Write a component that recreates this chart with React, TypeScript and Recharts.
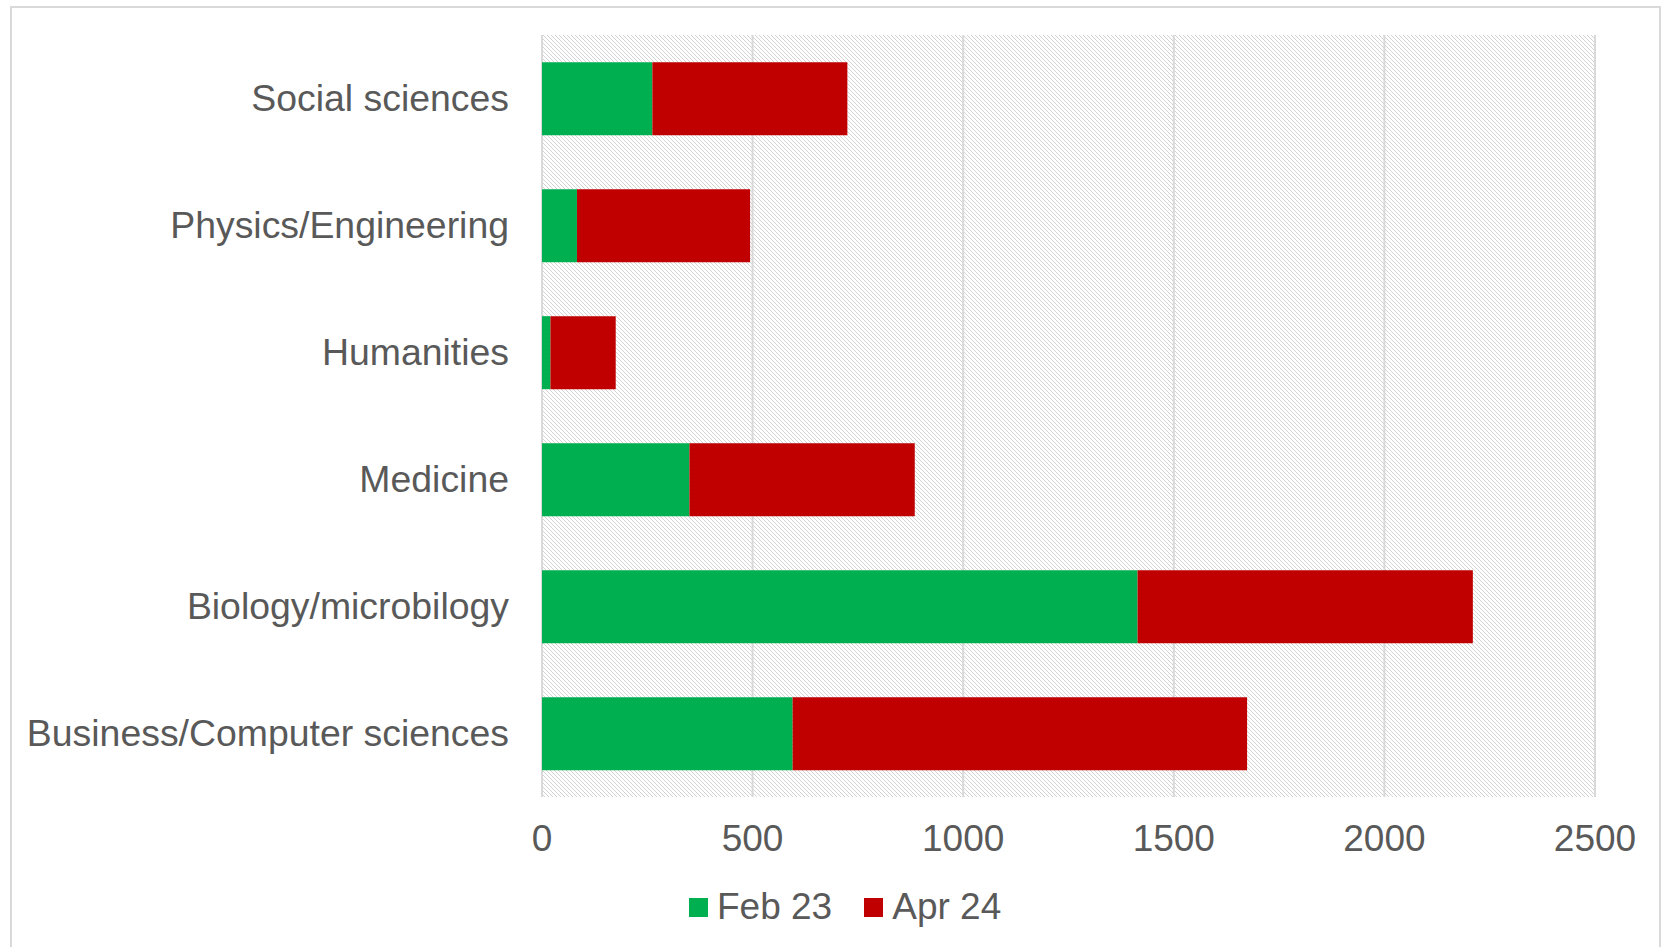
import React from 'react';
import {
  BarChart,
  Bar,
  XAxis,
  YAxis,
  CartesianGrid,
  Legend,
} from 'recharts';

// Fields of study, listed top to bottom as drawn
const categories = [
  'Social sciences',
  'Physics/Engineering',
  'Humanities',
  'Medicine',
  'Biology/microbilogy',
  'Business/Computer sciences',
];

// Counts per snapshot (stacked)
const feb23 = [262, 83, 20, 350, 1414, 595];
const apr24 = [463, 411, 155, 535, 796, 1079];

const xTicks = [0, 500, 1000, 1500, 2000, 2500];

const GREEN = '#00B050';
const RED = '#C00000';
const TEXT = '#595959';
const GRID = '#d9d9d9';
const FONT = '"Liberation Sans", Arial, sans-serif';
const FONT_SIZE = 37;

const chartData = categories.map((name, i) => ({
  name,
  feb23: feb23[i],
  apr24: apr24[i],
}));

const legendItems = [
  { label: 'Feb 23', color: GREEN },
  { label: 'Apr 24', color: RED },
];

// Legend drawn as two coloured squares with labels
const CustomLegend = () => (
  <div style={{ display: 'flex', alignItems: 'center', height: 40, paddingLeft: 689 }}>
    {legendItems.map((item, idx) => (
      <div key={idx} style={{ display: 'flex', alignItems: 'center', marginRight: 32 }}>
        <div style={{ width: 19, height: 19, backgroundColor: item.color, marginRight: 9 }} />
        <span style={{ fontSize: FONT_SIZE, color: TEXT, fontFamily: FONT, lineHeight: '40px' }}>{item.label}</span>
      </div>
    ))}
  </div>
);

export default function App() {
  return (
    <div style={{ position: 'absolute', left: 0, top: 0, width: 1665, height: 947, background: '#fff', overflow: 'hidden' }}>
      {/* hatched plot background pattern */}
      <svg width={0} height={0} style={{ position: 'absolute' }}>
        <defs>
          <pattern id="hatch" width={4} height={4} patternUnits="userSpaceOnUse">
            <rect width={4} height={4} fill="#ffffff" />
            <path d="M-1,-1 L5,5 M3,-1 L5,1 M-1,3 L1,5" stroke="#d3d3d3" strokeWidth={1} />
          </pattern>
        </defs>
      </svg>

      {/* outer chart border */}
      <div
        style={{
          position: 'absolute',
          left: 10,
          top: 6,
          width: 1651,
          height: 1000,
          border: `2px solid ${GRID}`,
          boxSizing: 'border-box',
        }}
      />

      <div style={{ position: 'absolute', left: 0, top: 0 }}>
        <BarChart
          width={1665}
          height={947}
          data={chartData}
          layout="vertical"
          margin={{ top: 35, right: 70, bottom: 20, left: 0 }}
          barCategoryGap="21.4%"
        >
          <CartesianGrid
            horizontal={false}
            vertical={true}
            stroke={GRID}
            strokeWidth={2}
            fill="url(#hatch)"
            fillOpacity={1}
          />
          <XAxis
            type="number"
            domain={[0, 2500]}
            ticks={xTicks}
            axisLine={false}
            tickLine={false}
            tickSize={0}
            tickMargin={28}
            height={90}
            tick={{ fontSize: FONT_SIZE, fill: TEXT, fontFamily: FONT }}
          />
          <YAxis
            type="category"
            dataKey="name"
            width={542}
            axisLine={false}
            tickLine={false}
            tickSize={0}
            tickMargin={33}
            tick={{ fontSize: 37.4, fill: TEXT, fontFamily: FONT, dy: -1 }}
          />
          <Legend verticalAlign="bottom" height={40} content={<CustomLegend />} />
          <Bar dataKey="feb23" name="Feb 23" stackId="a" fill={GREEN} isAnimationActive={false} />
          <Bar dataKey="apr24" name="Apr 24" stackId="a" fill={RED} isAnimationActive={false} />
        </BarChart>
      </div>
    </div>
  );
}
